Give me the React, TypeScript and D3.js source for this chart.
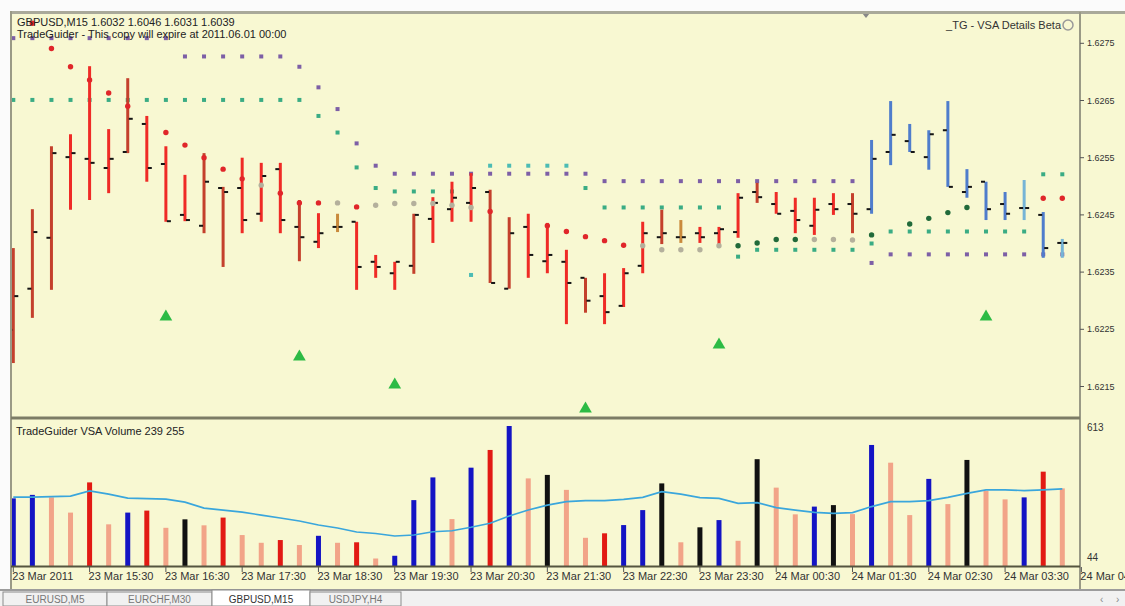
import * as d3 from 'd3'

const W = 1125
const H = 606

// OHLC of GBPUSD M15 bars, 23 Mar 14:30 .. 24 Mar 04:15
const OPEN = [1.62249, 1.62321, 1.6241, 1.62551, 1.62548, 1.62532, 1.6256, 1.62609, 1.62539, 1.6245,
  1.62431, 1.62497, 1.62497, 1.62452, 1.6253, 1.62429, 1.62403, 1.62429, 1.62438, 1.62368,
  1.62348, 1.62361, 1.62443, 1.6246, 1.62471, 1.6249, 1.62321, 1.62429, 1.62369, 1.62368,
  1.6234, 1.62308, 1.62291, 1.62361, 1.62411, 1.62411, 1.62418, 1.62418, 1.6242, 1.6249,
  1.62469, 1.62457, 1.62431, 1.62469, 1.62469, 1.6246, 1.6256, 1.62579, 1.62551, 1.62598,
  1.6249, 1.62508, 1.62469, 1.62462, 1.6245, 1.62401]
const HIGH = [1.62392, 1.6246, 1.6257, 1.62591, 1.6271, 1.626, 1.62689, 1.62623, 1.6257, 1.6252,
  1.62558, 1.62499, 1.6255, 1.62541, 1.62541, 1.62476, 1.62453, 1.62452, 1.62438, 1.6238,
  1.62368, 1.62452, 1.62481, 1.62508, 1.62523, 1.62494, 1.62446, 1.62452, 1.62436, 1.62389,
  1.6234, 1.62348, 1.62357, 1.62438, 1.62459, 1.62441, 1.62429, 1.62429, 1.62488, 1.62506,
  1.6249, 1.6248, 1.6248, 1.62488, 1.62488, 1.62581, 1.62649, 1.62609, 1.62598, 1.62649,
  1.6253, 1.62508, 1.6249, 1.62511, 1.62455, 1.62408]
const LOW = [1.62191, 1.6227, 1.62319, 1.62459, 1.62476, 1.62488, 1.62558, 1.62508, 1.62438, 1.62439,
  1.62418, 1.62359, 1.62418, 1.62438, 1.62418, 1.62369, 1.62392, 1.6242, 1.62319, 1.6234,
  1.62319, 1.62347, 1.62401, 1.62438, 1.62438, 1.62331, 1.62321, 1.6234, 1.62348, 1.62259,
  1.62279, 1.62259, 1.62289, 1.62348, 1.62399, 1.62401, 1.62401, 1.62394, 1.6241, 1.62471,
  1.62452, 1.62418, 1.62415, 1.6245, 1.62418, 1.62452, 1.62537, 1.6256, 1.62529, 1.62499,
  1.6248, 1.62441, 1.62441, 1.62441, 1.62375, 1.62375]
const CLOSE = [1.62308, 1.6242, 1.62558, 1.62558, 1.62541, 1.62548, 1.62618, 1.62532, 1.62439, 1.62441,
  1.62508, 1.6249, 1.62441, 1.62518, 1.62441, 1.62411, 1.62418, 1.62429, 1.62359, 1.62359,
  1.62368, 1.6245, 1.62471, 1.6248, 1.62497, 1.62331, 1.62418, 1.6238, 1.6238, 1.62331,
  1.623, 1.6228, 1.62348, 1.62418, 1.62418, 1.62411, 1.62411, 1.62425, 1.6248, 1.62481,
  1.62452, 1.62441, 1.62459, 1.6246, 1.62452, 1.62548, 1.6259, 1.6256, 1.62591, 1.62499,
  1.62499, 1.6246, 1.62452, 1.62462, 1.62392, 1.62401]
// r red, b brown, o orange, u blue, c light blue
const BAR_KIND = ('bbbrrrbrrr' + 'bbrrrbrorr' + 'rbrrrbbrrr' + 'brrrborrrb' + 'rrrrbuuuuu' + 'uuucuc').split('')

// indicator dots
const UPPER = [1.62759, 1.62759, 1.62759, 1.62759, 1.62759, 1.62759, 1.62759, 1.62759, 1.62759, 1.62727,
  1.62727, 1.62727, 1.62727, 1.62727, 1.62727, 1.62709, 1.62673, 1.62635, 1.62575, 1.62536,
  1.62522, 1.62522, 1.62522, 1.62522, 1.62522, 1.62522, 1.62522, 1.62522, 1.62522, 1.62522,
  1.62522, 1.62509, 1.62509, 1.62509, 1.62509, 1.62509, 1.62509, 1.62509, 1.62509, 1.62509,
  1.62509, 1.62509, 1.62509, 1.62509, 1.62509, 1.62366, 1.62381, 1.62381, 1.62381, 1.62381,
  1.62381, 1.62381, 1.62381, 1.62381, 1.62381, 1.62381]
const MIDDLE = [1.62651, 1.62651, 1.62651, 1.62651, 1.62651, 1.62651, 1.62651, 1.62651, 1.62651, 1.62651,
  1.62651, 1.62651, 1.62651, 1.62651, 1.62651, 1.62651, 1.62623, 1.62594, 1.62533, 1.62497,
  1.62491, 1.62491, 1.62491, 1.62491, null, null, null, null, null, null,
  1.62497, 1.62463, 1.62463, 1.62463, 1.62463, 1.62463, 1.62463, 1.62463, 1.62377, 1.62389,
  1.62389, 1.62389, 1.62389, 1.62389, 1.62389, 1.624, 1.62421, 1.62421, 1.62421, 1.62421,
  1.62421, 1.62421, 1.62421, 1.62421, 1.62521, 1.62521]
const CYAN_IDX = [25, 26, 27, 28, 29, 24]
const CYAN = [1.62536, 1.62536, 1.62536, 1.62536, 1.62536, 1.62345]
const STOP = [null, 1.62785, 1.62741, 1.62709, 1.62686, 1.62663, 1.6264, null, 1.62594, 1.62572,
  1.6255, 1.6253, 1.62513, 1.62502, 1.62488, 1.62471, 1.62471, 1.62471, 1.62464, 1.62467,
  1.6247, 1.6247, 1.6247, 1.62467, 1.62463, 1.62456, null, null, 1.62431, 1.62421,
  1.62412, 1.62405, 1.62397, 1.62396, 1.62389, 1.62389, 1.62389, 1.62396, 1.62396, 1.62401,
  1.62407, 1.62407, 1.62407, 1.62407, 1.62406, 1.62415, null, 1.62434, 1.62444, 1.62454,
  1.62463, null, null, null, 1.62479, 1.62479]
// r red, g grey, d dark green
const STOP_KIND = ('rrrrrrrrrrrrr' + 'g' + 'rrr' + 'g' + 'r' + 'gggggg' + 'rrrrrrrr' + 'ggggg' + 'dddd' + 'ggg' + 'ddddddddd' + 'rr').split('')
const SIGNAL_IDX = [8, 15, 20, 30, 37, 51]
const SIGNAL = [1.62272, 1.62202, 1.62153, 1.62111, 1.62223, 1.62272]

// volume pane
const VOLUME = [315, 329, 319, 258, 379, 211, 258, 266, 197, 231,
  207, 238, 168, 137, 148, 128, 165, 137, 139, 74,
  85, 308, 399, 232, 438, 509, 605, 395, 409, 349,
  157, 175, 208, 268, 375, 139, 199, 228, 145, 472,
  358, 251, 282, 288, 252, 529, 458, 248, 393, 292,
  469, 345, 311, 319, 422, 355]
// u blue, r red, s salmon, k black
const VOL_KIND = ('uussrsursk' + 'srssrsusrs' + 'uuusurusks' + 'sruukskusk' + 'ssuksussus' + 'kssurs').split('')
const VOL_MA = [320, 320, 322, 324, 345, 332, 316, 314, 312, 300,
  276, 268, 260, 248, 236, 224, 208, 196, 180, 174,
  164, 168, 181, 185, 199, 215, 244, 268, 288, 302,
  306, 306, 311, 319, 342, 332, 318, 315, 295, 298,
  278, 268, 259, 255, 258, 282, 302, 302, 306, 319,
  335, 349, 349, 346, 349, 353]

const PRICE_TICKS = [1.6275, 1.6265, 1.6255, 1.6245, 1.6235, 1.6225, 1.6215]
const TIME_LABELS = ['23 Mar 2011', '23 Mar 15:30', '23 Mar 16:30', '23 Mar 17:30', '23 Mar 18:30',
  '23 Mar 19:30', '23 Mar 20:30', '23 Mar 21:30', '23 Mar 22:30', '23 Mar 23:30',
  '24 Mar 00:30', '24 Mar 01:30', '24 Mar 02:30', '24 Mar 03:30', '24 Mar 04:30']
const TABS = ['EURUSD,M5', 'EURCHF,M30', 'GBPUSD,M15', 'USDJPY,H4']

const BAR_COLORS = { r: '#ef2b26', b: '#c4402c', o: '#c98a3c', u: '#4f7dcc', c: '#76b4d6' }
const STOP_COLORS = { r: '#e0262a', g: '#b4b09c', d: '#216a3a' }
const VOL_COLORS = { u: '#1414c4', r: '#e21a14', s: '#f2a488', k: '#111111' }

const FONT = '"Liberation Sans", Arial, sans-serif'
const BG = '#f8f8d2'
const FRAME = '#9a9a86'

export default function App() {
  const x = d3.scaleLinear().domain([0, OPEN.length - 1]).range([13.3, 1062.3])
  const y = d3.scaleLinear().domain([1.6215, 1.6275]).range([386.5, 43.3])
  const yv = d3.scaleLinear().domain([44, 613]).range([566, 424])
  const maPath = d3.line<number>().x((_, i) => x(i)).y((d) => yv(d))(VOL_MA) || ''
  const tri = d3.symbol().type(d3.symbolTriangle).size(70)()

  const tabX = [3, 107, 212, 310, 401]

  return (
    <div style={{ position: 'absolute', left: 0, top: 0, width: W, height: H }}>
      <svg width={W} height={H} style={{ display: 'block', fontFamily: FONT }}>
        <defs>
          <clipPath id="price-pane">
            <rect x={12} y={14} width={1067} height={402} />
          </clipPath>
        </defs>
        <rect width={W} height={H} fill="#fbfbfb" />
        <rect x={11} y={12} width={W - 11} height={578} fill={BG} />

        {/* price pane */}
        <g clipPath="url(#price-pane)">
          {UPPER.map((v, i) => (
            <rect key={'up' + i} x={x(i) - 2} y={y(v) - 2} width={4} height={4} fill="#7d5fa6" />
          ))}
          {MIDDLE.map((v, i) =>
            v == null ? null : (
              <rect key={'md' + i} x={x(i) - 2} y={y(v) - 2} width={4} height={4} fill="#3aac84" />
            )
          )}
          {CYAN.map((v, k) => (
            <rect key={'cy' + k} x={x(CYAN_IDX[k]) - 2} y={y(v) - 2} width={4} height={4} fill="#4cbcb4" />
          ))}
          {OPEN.map((o, i) => {
            const cx = x(i)
            return (
              <g key={'bar' + i}>
                <line x1={cx} x2={cx} y1={y(HIGH[i])} y2={y(LOW[i])} stroke={BAR_COLORS[BAR_KIND[i]]} strokeWidth={3} />
                <rect x={cx - 5} y={y(o) - 1} width={4} height={2} fill="#141414" />
                <rect x={cx + 1} y={y(CLOSE[i]) - 1} width={4} height={2} fill="#141414" />
              </g>
            )
          })}
          {STOP.map((v, i) =>
            v == null ? null : (
              <circle key={'st' + i} cx={x(i)} cy={y(v)} r={2.7} fill={STOP_COLORS[STOP_KIND[i]]} />
            )
          )}
          {SIGNAL.map((v, k) => (
            <path key={'sg' + k} d={tri} transform={`translate(${x(SIGNAL_IDX[k])},${y(v)})`} fill="#2dbb45" />
          ))}
        </g>

        <text x={17} y={26} fontSize={11} fill="#222">GBPUSD,M15  1.6032 1.6046 1.6031 1.6039</text>
        <text x={17} y={38} fontSize={11} fill="#222">TradeGuider - This copy will expire at 2011.06.01 00:00</text>
        <text x={1061} y={29} fontSize={11} fill="#333" textAnchor="end">_TG - VSA Details Beta</text>
        <circle cx={1068} cy={25} r={5} fill="none" stroke="#999" strokeWidth={1.5} />
        <path d="M862,13 L870,13 L866,18 Z" fill="#888" />

        {/* volume pane */}
        {VOLUME.map((v, i) => (
          <rect key={'v' + i} x={x(i) - 2.5} y={yv(v)} width={5} height={566 - yv(v)} fill={VOL_COLORS[VOL_KIND[i]]} />
        ))}
        <path d={maPath} fill="none" stroke="#3aa6dc" strokeWidth={1.6} />
        <text x={16} y={435} fontSize={11} fill="#222">TradeGuider VSA Volume 239 255</text>
        <text x={1087} y={431} fontSize={10} fill="#333">613</text>
        <text x={1087} y={561} fontSize={10} fill="#333">44</text>

        {/* frame */}
        <line x1={10} x2={W} y1={12.5} y2={12.5} stroke="#a9a99a" strokeWidth={3} />
        <line x1={11} x2={11} y1={11} y2={590} stroke={FRAME} strokeWidth={2} />
        <line x1={1080} x2={1080} y1={12} y2={590} stroke={FRAME} strokeWidth={2} />
        <line x1={11} x2={1080} y1={418} y2={418} stroke="#7c7c66" strokeWidth={3} />
        <line x1={11} x2={1080} y1={566.5} y2={566.5} stroke="#55553f" strokeWidth={2} />

        {/* price axis */}
        {PRICE_TICKS.map((p) => (
          <g key={'pt' + p}>
            <line x1={1080} x2={1084} y1={y(p)} y2={y(p)} stroke="#555" />
            <text x={1087} y={y(p) + 3} fontSize={9} fill="#333">{p.toFixed(4)}</text>
          </g>
        ))}

        {/* time axis */}
        {TIME_LABELS.map((t, k) => (
          <g key={'tl' + k}>
            <line x1={x(k * 4)} x2={x(k * 4)} y1={567} y2={572} stroke="#555" />
            <text x={x(k * 4) - 1} y={580} fontSize={11} fill="#333">{t}</text>
          </g>
        ))}

        {/* symbol tabs */}
        <line x1={0} x2={W} y1={590} y2={590} stroke="#9c9c9c" strokeWidth={2} />
        <rect x={0} y={591} width={W} height={15} fill="#f1f1f1" />
        {TABS.map((t, k) => {
          const active = k === 2
          return (
            <g key={'tab' + k}>
              <rect x={tabX[k]} y={active ? 590 : 592} width={tabX[k + 1] - tabX[k]} height={active ? 16 : 14}
                fill={active ? '#ffffff' : '#f1f1f1'} stroke="#8c8c8c" strokeWidth={1} />
              <text x={(tabX[k] + tabX[k + 1]) / 2} y={603} fontSize={10} textAnchor="middle" fill={active ? '#333' : '#777'}>{t}</text>
            </g>
          )
        })}
        <text x={1100} y={603} fontSize={10} fill="#888">‹</text>
        <text x={1116} y={603} fontSize={10} fill="#888">›</text>
      </svg>
    </div>
  )
}
